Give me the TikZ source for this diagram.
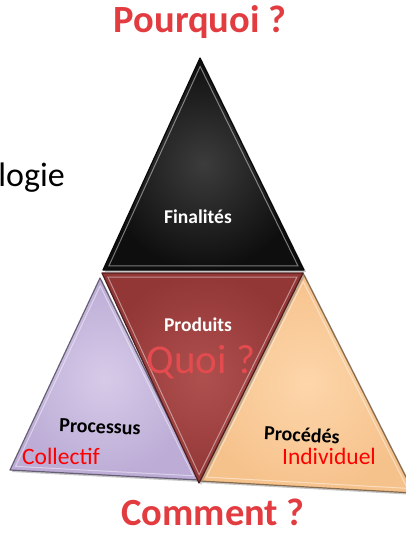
\documentclass[tikz,border=0pt]{standalone}
\usepackage{fontspec}
\setmainfont{Carlito}
\usetikzlibrary{calc,shadows}
\definecolor{rougetitre}{RGB}{226,60,64}
\definecolor{violet1}{RGB}{214,202,232}
\definecolor{violet2}{RGB}{188,172,214}
\definecolor{bordeaux1}{RGB}{174,80,78}
\definecolor{bordeaux2}{RGB}{146,54,54}
\definecolor{peche1}{RGB}{253,214,170}
\definecolor{peche2}{RGB}{246,194,140}
\definecolor{noir1}{RGB}{60,60,60}
\definecolor{noir2}{RGB}{14,14,14}
\tikzstyle{ombre} = [drop shadow={opacity=0.45,shadow xshift=2pt,shadow yshift=-2pt}]
% triangle with bevel: corners #1 #2 #3, inner colour #4, outer colour #5
\newcommand{\facette}[5]{
 \coordinate (g) at ($1/3*(#1)+1/3*(#2)+1/3*(#3)$);
 \shade[ombre,inner color=#4,outer color=#5] (#1) -- (#2) -- (#3) -- cycle;
 \draw[#5!55!black,line width=1.2pt,line join=round] (#1) -- (#2) -- (#3) -- cycle;
 \draw[white,opacity=0.45,line width=1pt] ($(#1)!0.06!(g)$) -- ($(#2)!0.06!(g)$) -- ($(#3)!0.06!(g)$) -- cycle;
}

\begin{document}
\begin{tikzpicture}[x=1pt,y=-1pt]
    \tikzstyle{titre} = [inner sep=0pt,text=rougetitre,font=\bfseries\fontsize{38.5}{38.5}\selectfont]
    \tikzstyle{quoi} = [inner sep=0pt,text=rougetitre!92!white,font=\fontsize{41}{41}\selectfont]
    \tikzstyle{blanc} = [inner sep=0pt,text=white,font=\bfseries\fontsize{19.5}{19.5}\selectfont]
    \tikzstyle{noir} = [inner sep=0pt,text=black,font=\bfseries\fontsize{20}{20}\selectfont]
    \tikzstyle{rouge} = [inner sep=0pt,text=red,font=\fontsize{23.5}{23.5}\selectfont]
    \useasboundingbox (0,0) rectangle (406,533);

    % corners
    \coordinate (fin1) at (200,58);  \coordinate (fin2) at (103,270); \coordinate (fin3) at (304,270);
    \coordinate (pro1) at (102,273); \coordinate (pro2) at (303,273); \coordinate (pro3) at (199,483);
    \coordinate (col1) at (100,278); \coordinate (col2) at (10,470);  \coordinate (col3) at (199,480);
    \coordinate (ind1) at (303,273); \coordinate (ind2) at (200,481); \coordinate (ind3) at (414,493);

    % triangles
    \facette{col1}{col2}{col3}{violet1}{violet2}
    \facette{ind1}{ind2}{ind3}{peche1}{peche2}
    \facette{pro1}{pro2}{pro3}{bordeaux1}{bordeaux2}
    \facette{fin1}{fin2}{fin3}{noir1}{noir2}

    % questions
    \node[titre] (pourquoi) at (200,22) {Pourquoi ?};
    \node[titre] (comment) at (213,512) {Comment ?};
    \node[quoi] (quoi) at (201,362) {Quoi ?};

    % labels
    \node[blanc] (finalites) at (198,217) {Finalités};
    \node[blanc] (produits) at (198,325) {Produits};
    \node[noir,rotate=-2] (processus) at (100,427) {Processus};
    \node[noir,rotate=-3] (procedes) at (302,435) {Procédés};
    \node[rouge] (collectif) at (61,456) {Collectif};
    \node[rouge] (individuel) at (329,456) {Individuel};
    \node[anchor=base east,inner sep=0pt,font=\fontsize{34}{34}\selectfont] (logie) at (65,186) {logie};
\end{tikzpicture}
\end{document}
